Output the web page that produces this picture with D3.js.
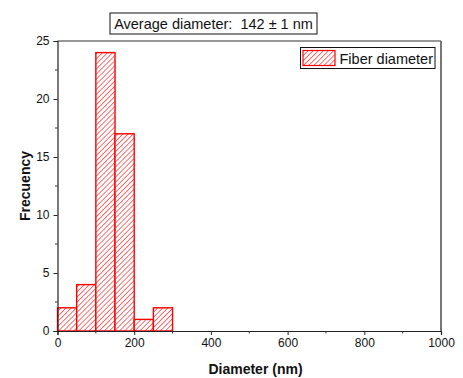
<!DOCTYPE html>
<html>
<head>
<meta charset="utf-8">
<script src="https://cdn.jsdelivr.net/npm/d3@7"></script>
<style>
  body { margin: 0; background: #fff; }
  svg { display: block; font-family: 'Liberation Sans', Arial, sans-serif; }
</style>
</head>
<body>
<div id="chart"></div>
<script>
// histogram bins (nm) and counts
const binStarts = [0, 50, 100, 150, 200, 250]
const binWidth = 50
const counts = [2, 4, 24, 17, 1, 2]
const xTicks = [0, 200, 400, 600, 800, 1000]
const yTicks = [0, 5, 10, 15, 20, 25]

const W = 463, H = 378
const margin = { top: 41, right: 22, bottom: 47, left: 57.5 }
const width = W - margin.left - margin.right
const height = H - margin.top - margin.bottom

const svg = d3.select('#chart').append('svg')
  .attr('width', W).attr('height', H)

const defs = svg.append('defs')
const pat = defs.append('pattern')
  .attr('id', 'hatch')
  .attr('patternUnits', 'userSpaceOnUse')
  .attr('width', 3.6).attr('height', 3.6)
  .attr('patternTransform', 'rotate(45)')
pat.append('rect').attr('width', 3.6).attr('height', 3.6).attr('fill', '#fff')
pat.append('line')
  .attr('x1', 0).attr('y1', 0).attr('x2', 0).attr('y2', 3.6)
  .attr('stroke', '#ff2020').attr('stroke-width', 1.3)

const g = svg.append('g').attr('transform', `translate(${margin.left},${margin.top})`)

const x = d3.scaleLinear().domain([0, 1000]).range([0, width])
const y = d3.scaleLinear().domain([0, 25]).range([height, 0])

// bars
g.selectAll('.bar')
  .data(counts)
  .join('rect')
  .attr('class', 'bar')
  .attr('x', (d, i) => x(binStarts[i]))
  .attr('y', d => y(d))
  .attr('width', (d, i) => x(binStarts[i] + binWidth) - x(binStarts[i]))
  .attr('height', d => y(0) - y(d))
  .attr('fill', 'url(#hatch)')
  .attr('stroke', '#ff0000')
  .attr('stroke-width', 1.4)

// frame: top and right
g.append('line').attr('x1', 0).attr('x2', width).attr('y1', 0).attr('y2', 0)
  .attr('stroke', '#333').attr('stroke-width', 1.2)
g.append('line').attr('x1', width).attr('x2', width).attr('y1', 0).attr('y2', height)
  .attr('stroke', '#777').attr('stroke-width', 2)

// axes
const xAxis = g.append('g').attr('transform', `translate(0,${height})`)
  .call(d3.axisBottom(x).tickValues(xTicks).tickSize(4).tickPadding(3).tickFormat(d3.format('d')))
const yAxis = g.append('g')
  .call(d3.axisLeft(y).tickValues(yTicks).tickSize(4).tickPadding(4))

// minor ticks
const xMinor = d3.range(100, 1000, 200)
g.append('g').selectAll('line').data(xMinor).join('line')
  .attr('x1', d => x(d)).attr('x2', d => x(d))
  .attr('y1', height).attr('y2', height + 2.5)
  .attr('stroke', '#333')
const yMinor = d3.range(2.5, 25, 5)
g.append('g').selectAll('line').data(yMinor).join('line')
  .attr('x1', 0).attr('x2', -2.5)
  .attr('y1', d => y(d)).attr('y2', d => y(d))
  .attr('stroke', '#333')

;[xAxis, yAxis].forEach(a => {
  a.select('.domain').attr('stroke', '#222').attr('stroke-width', 1.2)
  a.selectAll('.tick line').attr('stroke', '#222')
  a.selectAll('text').attr('font-size', '12px').attr('fill', '#111')
    .attr('font-family', "'Liberation Sans', Arial, sans-serif")
})

// axis titles
svg.append('text')
  .attr('x', 255.5).attr('y', 374)
  .attr('text-anchor', 'middle')
  .attr('font-size', '14px').attr('font-weight', 'bold').attr('fill', '#111')
  .text('Diameter (nm)')
svg.append('text')
  .attr('transform', `translate(30,${margin.top + height / 2}) rotate(-90)`)
  .attr('text-anchor', 'middle')
  .attr('font-size', '14px').attr('font-weight', 'bold').attr('fill', '#111')
  .text('Frecuency')

// title box
const tb = svg.append('g').attr('transform', 'translate(110,13)')
tb.append('rect').attr('width', 207).attr('height', 21)
  .attr('fill', '#fff').attr('stroke', '#111').attr('stroke-width', 1)
tb.append('text').attr('x', 103.5).attr('y', 16)
  .attr('text-anchor', 'middle').attr('font-size', '14.5px').attr('fill', '#111')
  .attr('xml:space', 'preserve')
  .text('Average diameter:  142 ± 1 nm')

// legend
const lg = svg.append('g').attr('transform', 'translate(300.5,47.5)')
lg.append('rect').attr('width', 134.5).attr('height', 21)
  .attr('fill', '#fff').attr('stroke', '#111').attr('stroke-width', 1)
lg.append('rect').attr('x', 2.5).attr('y', 3).attr('width', 32).attr('height', 15)
  .attr('fill', 'url(#hatch)').attr('stroke', '#ff0000').attr('stroke-width', 1.2)
lg.append('text').attr('x', 39).attr('y', 16)
  .attr('font-size', '14.5px').attr('fill', '#111')
  .text('Fiber diameter')
</script>
</body>
</html>
